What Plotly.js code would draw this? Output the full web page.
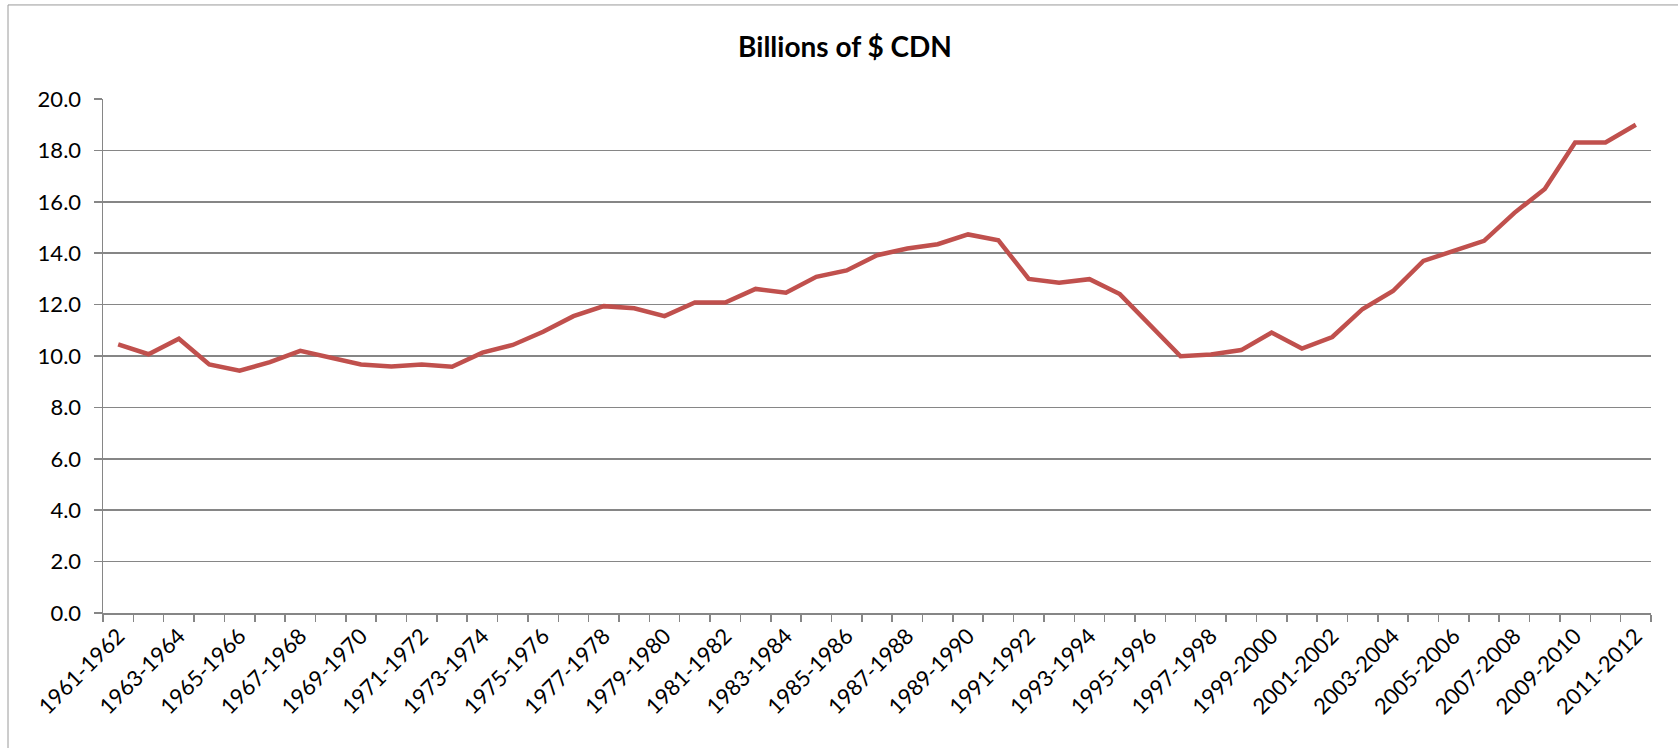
<!DOCTYPE html>
<html>
<head>
<meta charset="utf-8">
<script src="https://cdn.plot.ly/plotly-3.0.1.min.js"></script>
<style>html,body{margin:0;padding:0;background:#fff;}#chart{width:1678px;height:748px;}</style>
</head>
<body>
<div id="chart"></div>
<script>
const periods = [
  "1961-1962","1962-1963","1963-1964","1964-1965","1965-1966","1966-1967","1967-1968","1968-1969","1969-1970","1970-1971",
  "1971-1972","1972-1973","1973-1974","1974-1975","1975-1976","1976-1977","1977-1978","1978-1979","1979-1980","1980-1981",
  "1981-1982","1982-1983","1983-1984","1984-1985","1985-1986","1986-1987","1987-1988","1988-1989","1989-1990","1990-1991",
  "1991-1992","1992-1993","1993-1994","1994-1995","1995-1996","1996-1997","1997-1998","1998-1999","1999-2000","2000-2001",
  "2001-2002","2002-2003","2003-2004","2004-2005","2005-2006","2006-2007","2007-2008","2008-2009","2009-2010","2010-2011",
  "2011-2012"
];
const billionsCDN = [
  10.45, 10.07, 10.67, 9.67, 9.43, 9.76, 10.2, 9.94, 9.67, 9.59,
  9.67, 9.58, 10.13, 10.43, 10.94, 11.55, 11.94, 11.86, 11.55, 12.08,
  12.08, 12.61, 12.46, 13.08, 13.33, 13.92, 14.18, 14.35, 14.73, 14.5,
  13.0, 12.85, 12.99, 12.41, 11.2, 9.99, 10.06, 10.23, 10.91, 10.29,
  10.74, 11.83, 12.53, 13.7, 14.09, 14.48, 15.57, 16.5, 18.31, 18.31,
  19.0
];
const tickLabels = periods.map((p, i) => (i % 2 === 0 ? p : ""));
const yTicks = [0, 2, 4, 6, 8, 10, 12, 14, 16, 18, 20];

const trace = {
  type: "scatter",
  mode: "lines",
  x: periods,
  y: billionsCDN,
  line: {color: "#C0504D", width: 4.5},
  hoverinfo: "x+y",
  showlegend: false
};

const layout = {
  width: 1678,
  height: 748,
  paper_bgcolor: "#ffffff",
  plot_bgcolor: "#ffffff",
  margin: {l: 103, r: 27, t: 99, b: 135},
  font: {family: "Lato, 'Open Sans', sans-serif", color: "#000"},
  title: {
    text: "<b>Billions of $ CDN</b>",
    font: {family: "Lato, sans-serif", size: 28, color: "#000"},
    x: 845 / 1678, xref: "container", xanchor: "center",
    y: 1 - 47 / 748, yref: "container", yanchor: "middle"
  },
  xaxis: {
    type: "category",
    range: [-0.5, periods.length - 0.5],
    tickmode: "array",
    tickvals: periods,
    ticktext: tickLabels,
    tickangle: -45,
    tickson: "boundaries",
    ticks: "outside",
    ticklen: 7,
    tickwidth: 1.5,
    tickcolor: "#868686",
    showgrid: false,
    showline: true,
    linecolor: "#868686",
    linewidth: 1.5,
    tickfont: {family: "Lato, sans-serif", size: 22, color: "#000"},
    zeroline: false
  },
  yaxis: {
    range: [0, 20],
    tickmode: "array",
    tickvals: yTicks,
    tickformat: ".1f",
    ticks: "outside",
    ticklen: 8,
    tickwidth: 1.5,
    tickcolor: "#868686",
    showgrid: true,
    gridcolor: "#868686",
    gridwidth: 1.5,
    showline: true,
    linecolor: "#868686",
    linewidth: 1.5,
    zeroline: false,
    tickfont: {family: "Lato, sans-serif", size: 22, color: "#000"},
    ticklabelstandoff: 8
  },
  shapes: [{
    type: "rect",
    xref: "paper", yref: "paper",
    x0: (8 - 103) / 1548, x1: (1690 - 103) / 1548,
    y0: (612.7 - 760) / 513.7, y1: (612.7 - 5) / 513.7,
    line: {color: "#9a9a9a", width: 1},
    fillcolor: "rgba(0,0,0,0)",
    layer: "below"
  }]
};

Plotly.newPlot("chart", [trace], layout, {displayModeBar: false, staticPlot: true});
</script>
</body>
</html>
